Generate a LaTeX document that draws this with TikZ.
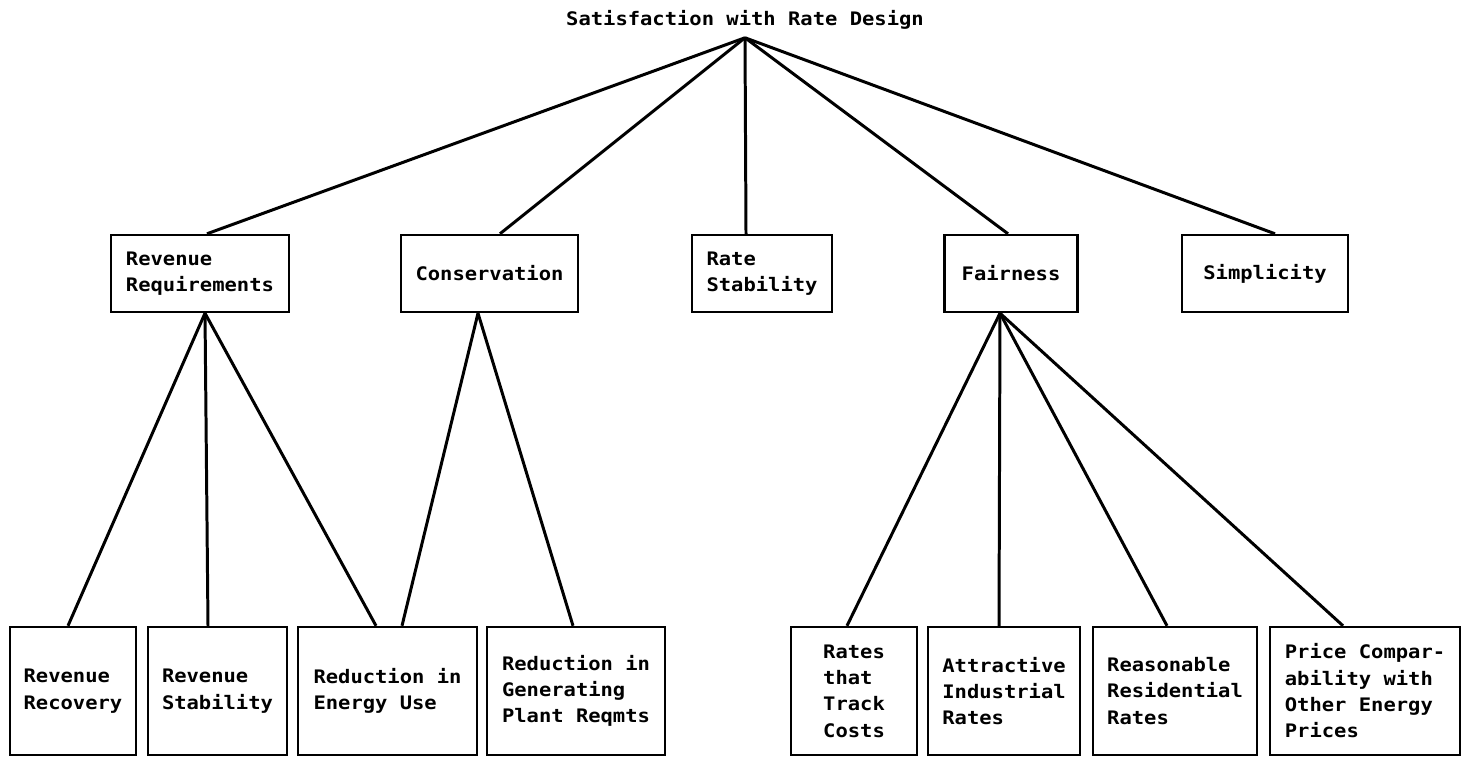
\documentclass[tikz,border=0pt]{standalone}
\usepackage{fontspec}
\setmonofont[FakeStretch=1.1]{DejaVu Sans Mono}
\usepackage{tikz}
\usetikzlibrary{positioning}

\begin{document}
\begin{tikzpicture}[x=0.02cm, y=-0.02cm,
	every node/.style={font=\ttfamily\bfseries\fontsize{10.6}{15}\selectfont},
	crit/.style={draw, line width=1.4pt, align=left, inner sep=0pt, minimum height=1.54cm},
	leaf/.style={draw, line width=1.4pt, align=left, inner sep=0pt, minimum height=2.56cm},
	branch/.style={line width=1.7pt}]
\useasboundingbox (0,0) rectangle (1464,757);

\node[inner sep=0pt, inner ysep=4.3pt, anchor=base] (goal) at (745,26) {Satisfaction with Rate Design};

% second level
\node[crit, minimum width=3.56cm] (revreq) at (200,273.5) {Revenue\\Requirements};
\node[crit, minimum width=3.54cm] (conserv) at (489.5,273.5) {Conservation};
\node[crit, minimum width=2.8cm] (ratestab) at (762,273.5) {Rate\\Stability};
\node[crit, minimum width=2.66cm] (fair) at (1011,273.5) {Fairness};
\node[crit, minimum width=3.32cm] (simple) at (1265,273.5) {Simplicity};

% third level
\node[leaf, minimum width=2.52cm] (recovery) at (73,691) {Revenue\\Recovery};
\node[leaf, minimum width=2.78cm] (revstab) at (217.5,691) {Revenue\\Stability};
\node[leaf, minimum width=3.58cm] (energy) at (387.5,691) {Reduction in\\Energy Use};
\node[leaf, minimum width=3.56cm] (plant) at (576,691) {Reduction in\\Generating\\Plant Reqmts};
\node[leaf, minimum width=2.52cm] (track) at (854,691) {Rates\\that\\Track\\Costs};
\node[leaf, minimum width=3.04cm] (industry) at (1004,691) {Attractive\\Industrial\\Rates};
\node[leaf, minimum width=3.28cm] (resid) at (1175,691) {Reasonable\\Residential\\Rates};
\node[leaf, minimum width=3.8cm] (price) at (1365,691) {Price Compar-\\ability with\\Other Energy\\Prices};

\foreach \n/\s in {revreq/0.14, conserv/0.21, ratestab/-0.32, fair/-0.06, simple/0.2}
	\draw[branch] (goal.south) -- ([xshift=\s cm]\n.north);
\foreach \n/\s in {recovery/-0.1, revstab/-0.19, energy/-0.23}
	\draw[branch] ([xshift=0.1cm]revreq.south) -- ([xshift=\s cm]\n.north);
\foreach \n/\s in {energy/0.29, plant/-0.06}
	\draw[branch] ([xshift=-0.23cm]conserv.south) -- ([xshift=\s cm]\n.north);
\foreach \n/\s in {track/-0.14, industry/-0.1, resid/-0.16, price/-0.44}
	\draw[branch] ([xshift=-0.22cm]fair.south) -- ([xshift=\s cm]\n.north);
\end{tikzpicture}
\end{document}
